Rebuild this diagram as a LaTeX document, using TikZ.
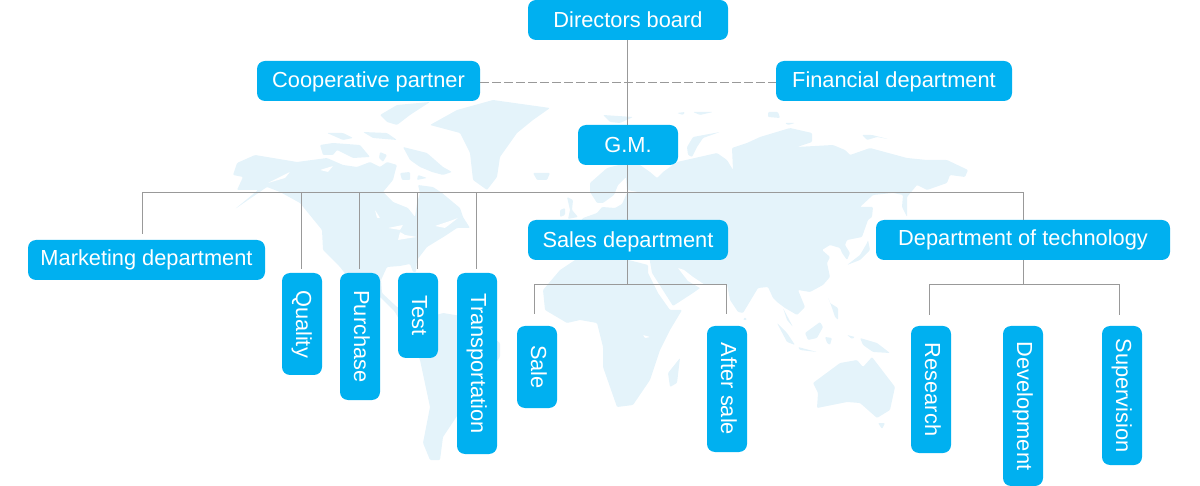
\documentclass[tikz,border=0pt]{standalone}
\usepackage{fontspec}
\setmainfont{Liberation Sans}
\definecolor{boxblue}{HTML}{00B0F0}
\definecolor{land}{HTML}{E4F3FA}
\definecolor{linkgray}{HTML}{999999}
\tikzset{
  orgbox/.style={fill=boxblue,text=white,rounded corners=8pt,inner sep=0pt,minimum height=40pt,font=\fontsize{21.8}{24}\selectfont,text height=16pt,text depth=0pt,align=center},
  vbox/.style={orgbox,rotate=-90,text depth=4pt},
  link/.style={draw=linkgray,line width=1pt},
  dashlink/.style={draw=linkgray,line width=1pt,dash pattern=on 9pt off 3pt},
  mapland/.style={fill=land,draw=none,rounded corners=1pt},
  maphole/.style={fill=white,draw=none,rounded corners=.6pt}
}
\begin{document}
\begin{tikzpicture}[x=1pt,y=-1pt]
\useasboundingbox (0,0) rectangle (1200,486);
% Americas
\fill[mapland] (233,175)--(237,163)--(255,155)--(297,162)--(327,158)--(343,165)--(357,167)--(370,162)--(380,167)--(387,162)--(397,165)--(395,172)--(393,180)--(383,192)--(393,202)--(408,208)--(415,217)--(417,203)--(420,193)--(418,185)--(433,187)--(442,193)--(460,208)--(463,217)--(470,228)--(457,228)--(445,236)--(427,247)--(417,260)--(416,272)--(413,272)--(410,264)--(400,266)--(387,267)--(381,280)--(382,293)--(397,307)--(420,320)--(443,313)--(467,317)--(500,343)--(500,357)--(480,383)--(463,407)--(443,437)--(440,460)--(430,460)--(423,443)--(430,407)--(420,360)--(413,345)--(395,312)--(380,297)--(350,280)--(340,267)--(323,250)--(322,230)--(300,203)--(280,192)--(267,187)--(235,209)--(258,190)--(237,190)--(243,177)--cycle;
\fill[mapland] (430,125)--(457,110)--(493,100)--(550,108)--(533,120)--(517,133)--(500,157)--(497,177)--(487,190)--(473,180)--(470,153)--(460,133)--cycle;
\fill[mapland] (380,115)--(397,105)--(430,102)--(410,115)--(397,125)--(387,122)--cycle;
\fill[mapland] (327,133)--(343,133)--(353,138)--(343,140)--cycle;
\fill[mapland] (363,132)--(387,133)--(397,140)--(373,138)--cycle;
\fill[mapland] (320,145)--(333,143)--(360,145)--(370,157)--(353,158)--(337,150)--(333,155)--(323,155)--cycle;
\fill[mapland] (403,147)--(427,153)--(443,167)--(452,172)--(443,175)--(432,172)--(420,167)--(410,160)--cycle;
\fill[mapland] (380,152)--(387,155)--(383,162)--(379,158)--cycle;
\fill[mapland] (400,173)--(410,172)--(410,180)--(402,180)--cycle;
\fill[mapland] (418,175)--(427,178)--(417,180)--cycle;
\fill[mapland] (533,173)--(550,173)--(547,180)--(537,180)--cycle;
% Eurasia
\fill[mapland] (580,240)--(580,222)--(583,218)--(597,213)--(602,207)--(615,208)--(622,204)--(627,193)--(638,192)--(627,190)--(626,177)--(618,185)--(614,195)--(603,203)--(597,203)--(590,192)--(590,183)--(607,168)--(627,163)--(640,165)--(650,172)--(657,178)--(663,172)--(677,162)--(717,153)--(727,160)--(733,170)--(732,148)--(747,143)--(760,137)--(790,128)--(812,133)--(812,142)--(797,147)--(833,145)--(845,150)--(850,155)--(870,148)--(907,158)--(927,160)--(947,160)--(968,170)--(965,177)--(950,175)--(947,183)--(927,190)--(917,185)--(907,197)--(907,217)--(902,207)--(903,195)--(893,193)--(873,195)--(860,207)--(873,207)--(872,217)--(868,220)--(862,237)--(847,240)--(845,245)--(850,253)--(847,260)--(842,253)--(840,248)--(830,245)--(822,250)--(830,257)--(827,263)--(830,277)--(823,285)--(810,292)--(798,290)--(805,307)--(797,315)--(785,308)--(777,302)--(773,298)--(768,287)--(758,288)--(743,313)--(738,312)--(730,300)--(727,284)--(703,284)--(700,288)--(693,293)--(673,306)--(652,273)--(648,250)--cycle;
\fill[mapland] (567,197)--(573,200)--(572,210)--(578,217)--(568,219)--(570,210)--cycle;
\fill[mapland] (560,210)--(565,208)--(565,215)--(560,217)--cycle;
% Africa
\fill[mapland] (590,250)--(648,265)--(648,273)--(658,293)--(670,310)--(682,310)--(670,330)--(660,350)--(650,380)--(633,405)--(617,407)--(603,367)--(603,347)--(597,323)--(580,320)--(567,323)--(545,310)--(543,290)--(560,270)--cycle;
\fill[mapland] (680,358)--(677,383)--(670,387)--(668,373)--cycle;
% Islands
\fill[mapland] (868,240)--(870,250)--(860,260)--(847,265)--(860,255)--(867,243)--cycle;
\fill[mapland] (813,383)--(840,363)--(857,360)--(863,367)--(872,357)--(895,387)--(890,410)--(877,418)--(860,403)--(847,402)--(817,408)--(818,393)--cycle;
\fill[mapland] (878,423)--(885,423)--(882,429)--cycle;
\fill[mapland] (777,323)--(787,333)--(795,345)--(787,342)--cycle;
\fill[mapland] (798,347)--(817,352)--(800,350)--cycle;
\fill[mapland] (805,333)--(820,322)--(823,327)--(817,338)--(808,340)--cycle;
\fill[mapland] (825,337)--(832,338)--(830,345)--(827,343)--cycle;
\fill[mapland] (860,338)--(877,343)--(890,353)--(873,352)--(863,345)--cycle;
\fill[mapland] (847,335)--(855,337)--(852,339)--cycle;
\fill[mapland] (828,297)--(830,303)--(838,308)--(838,320)--(835,317)--(832,308)--cycle;
\fill[mapland] (783,308)--(793,327)--(787,320)--cycle;
\fill[mapland] (745,317)--(747,320)--(743,320)--cycle;
\fill[mapland] (687,147)--(693,137)--(720,132)--(703,138)--(697,147)--(692,157)--(688,155)--cycle;
\fill[mapland] (603,115)--(633,117)--(620,123)--(610,122)--cycle;
\fill[mapland] (677,113)--(685,112)--(683,115)--cycle;
\fill[mapland] (693,112)--(713,112)--(700,115)--cycle;
\fill[mapland] (768,112)--(778,112)--(780,118)--(768,117)--cycle;
\fill[mapland] (785,123)--(795,123)--(788,125)--cycle;
\fill[mapland] (862,135)--(872,135)--(888,139)--(877,137)--(867,140)--cycle;
% Holes
\fill[maphole] (643,335)--(650,337)--(645,338)--cycle;
\fill[maphole] (388,228)--(403,225)--(400,230)--cycle;
\fill[maphole] (400,232)--(405,235)--(417,237)--(410,238)--(398,240)--cycle;
\fill[maphole] (375,210)--(380,218)--(377,218)--cycle;
\fill[maphole] (435,226)--(450,221)--(458,218)--(445,228)--cycle;
\fill[maphole] (678,268)--(684,270)--(693,277)--(708,287)--(700,288)--(688,281)--cycle;
\fill[maphole] (268,183)--(290,172)--(285,178)--cycle;
\fill[maphole] (320,170)--(333,166)--(328,172)--cycle;
% connector anchors
\coordinate (busL) at (142.5,192.5);
\coordinate (busR) at (1023.5,192.5);
\coordinate (busQ) at (301.5,192.5);
\coordinate (busP) at (359.5,192.5);
\coordinate (busT) at (417.5,192.5);
\coordinate (busC) at (476.5,192.5);
\coordinate (mktTop) at (142.5,234);
\coordinate (qTop) at (301.5,269);
\coordinate (pTop) at (359.5,269);
\coordinate (tTop) at (417.5,269);
\coordinate (cTop) at (476.5,269);
\coordinate (salesJ) at (627.5,284.5);
\coordinate (saleEl) at (534.5,284.5);
\coordinate (saleTop) at (534.5,314);
\coordinate (afterEl) at (726.5,284.5);
\coordinate (afterTop) at (726.5,314);
\coordinate (techJ) at (1023.5,284.5);
\coordinate (resEl) at (929.5,284.5);
\coordinate (resTop) at (929.5,315);
\coordinate (supEl) at (1119.5,284.5);
\coordinate (supTop) at (1119.5,315);
% nodes
\node[orgbox,minimum width=200pt] (db) at (628,20) {Directors board};
\node[orgbox,minimum width=223pt] (coop) at (368.5,81) {\raisebox{1pt}{Cooperative partner}};
\node[orgbox,minimum width=236pt] (fin) at (894,81) {\raisebox{1pt}{Financial department}};
\node[orgbox,minimum width=100pt] (gm) at (628,145) {G.M.};
\node[orgbox,minimum width=237pt] (mkt) at (146.5,260) {\raisebox{2pt}{Marketing department}};
\node[orgbox,minimum width=200pt] (sales) at (628,240) {Sales department};
\node[orgbox,minimum width=294pt] (tech) at (1023,240) {\raisebox{2pt}{Department of technology}};
\node[vbox,minimum width=102pt] (quality) at (302,324) {Quality};
\node[vbox,minimum width=127pt] (purchase) at (360,336.5) {Purchase};
\node[vbox,minimum width=85pt] (test) at (418,315.5) {Test};
\node[vbox,minimum width=181pt] (transport) at (477,363.5) {Transportation};
\node[vbox,minimum width=82pt] (sale) at (537,367) {Sale};
\node[vbox,minimum width=126pt] (after) at (727,389) {After sale};
\node[vbox,minimum width=127pt] (research) at (931,389.5) {Research};
\node[vbox,minimum width=160pt] (dev) at (1023,406) {Development};
\node[vbox,minimum width=139pt] (sup) at (1122,395.5) {Supervision};
% connectors
\draw[dashlink] ([yshift=-1.5pt]coop.east) -- ([yshift=-1.5pt]fin.west);
\draw[link] ([xshift=-.5pt]db.south) -- ([xshift=-.5pt]gm.north);
\draw[link] ([xshift=-.5pt]gm.south) -- ([xshift=-.5pt]sales.north);
\draw[link] (busL) -- (busR);
\draw[link] (busL) -- (mktTop);
\draw[link] (busQ) -- (qTop);
\draw[link] (busP) -- (pTop);
\draw[link] (busT) -- (tTop);
\draw[link] (busC) -- (cTop);
\draw[link] (busR) -- ([xshift=.5pt]tech.north);
\draw[link] ([xshift=-.5pt]sales.south) -- (salesJ);
\draw[link] (saleTop) -- (saleEl) -- (afterEl) -- (afterTop);
\draw[link] ([xshift=.5pt]tech.south) -- (techJ);
\draw[link] (resTop) -- (resEl) -- (supEl) -- (supTop);
\end{tikzpicture}
\end{document}
